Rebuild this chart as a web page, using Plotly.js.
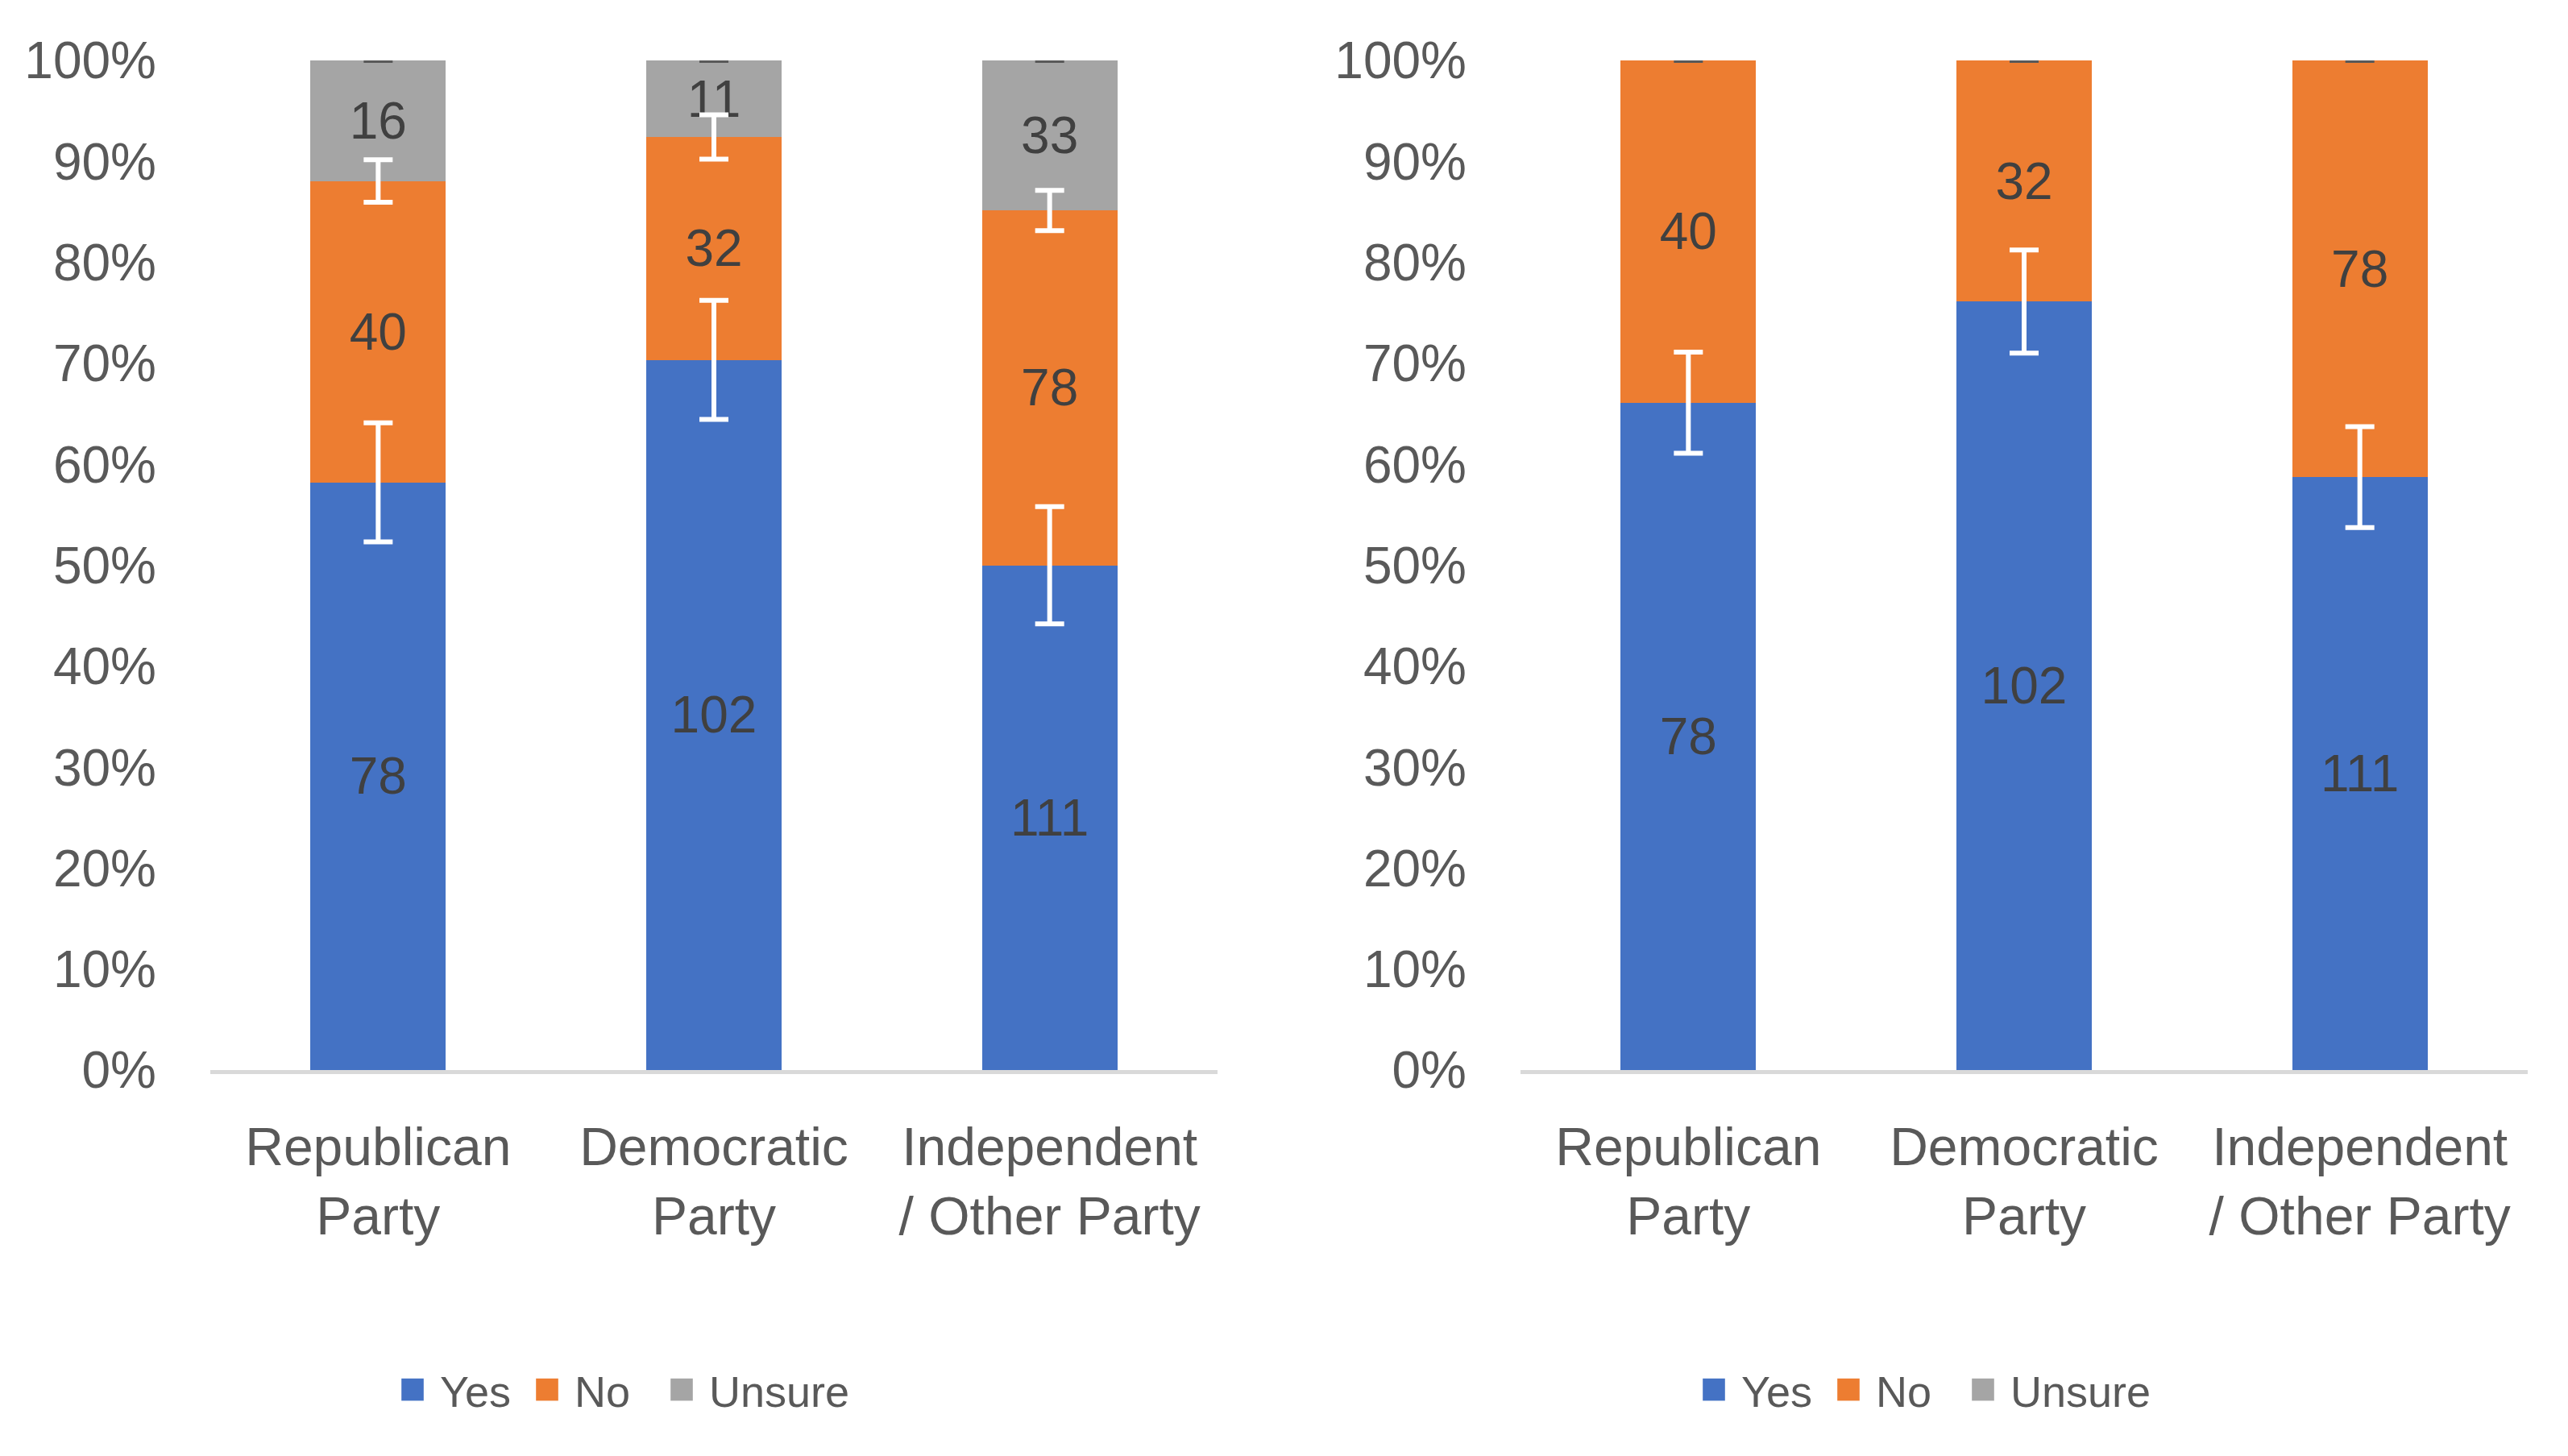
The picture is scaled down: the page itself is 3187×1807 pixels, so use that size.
<!DOCTYPE html>
<html>
<head>
<meta charset="utf-8">
<script src="https://cdn.plot.ly/plotly-3.0.1.min.js"></script>
<style>
html,body{margin:0;padding:0;background:#fff;}
#chart{width:3187px;height:1807px;}
/* larger legend swatches, as in the reference */
#chart .legend .legendpoints path,
#chart .legend2 .legendpoints path { transform: translate(6px, 0px) scale(2.3); }
#chart .legend .scrollbox,
#chart .legend2 .scrollbox { clip-path: none !important; }
</style>
</head>
<body>
<div id="chart"></div>
<script>
// ---- data ----
const categories = ['Republican Party', 'Democratic Party', 'Independent / Other Party'];
const tickLabels = ['Republican<br>Party', 'Democratic<br>Party', 'Independent<br>/ Other Party'];

// left panel counts
const yesLeft = [78, 102, 111];
const noLeft = [40, 32, 78];
const unsureLeft = [16, 11, 33];
// left panel error bars (share of total)
const errYesLeft = [0.059, 0.059, 0.058];
const errNoLeft = [0.021, 0.022, 0.020];
const errUnsureLeft = [0, 0, 0];

// right panel counts (unsure excluded)
const yesRight = [78, 102, 111];
const noRight = [40, 32, 78];
const unsureRight = [0, 0, 0];
const errYesRight = [0.050, 0.051, 0.050];
const errNoRight = [0, 0, 0];

// ---- styles ----
const colors = {Yes: '#4472C4', No: '#ED7D31', Unsure: '#A5A5A5'};
const FONT = 'Liberation Sans, Arial, sans-serif';

function totalsOf(a, b, c) { return a.map((v, i) => v + b[i] + c[i]); }
function shares(series, totals) { return series.map((v, i) => totals[i] ? v / totals[i] : 0); }
function addArr(a, b) { return a.map((v, i) => v + b[i]); }

const totLeft = totalsOf(yesLeft, noLeft, unsureLeft);
const totRight = totalsOf(yesRight, noRight, unsureRight);

function barTrace(name, counts, totals, xa, ya, legend) {
  return {
    type: 'bar',
    name: name,
    x: categories,
    y: shares(counts, totals),
    xaxis: xa, yaxis: ya,
    legend: legend,
    marker: {color: colors[name], line: {width: 0}},
    text: counts.map(v => v > 0 ? String(v) : ''),
    textposition: 'inside',
    insidetextanchor: 'middle',
    textangle: 0,
    constraintext: 'none',
    textfont: {family: FONT, size: 64, color: '#404040'},
    hoverinfo: 'skip'
  };
}

// error bars drawn on top of the stacked segments
function errTrace(tops, err, color, xa, ya) {
  return {
    type: 'scatter',
    mode: 'markers',
    x: categories,
    y: tops,
    xaxis: xa, yaxis: ya,
    showlegend: false,
    marker: {size: 1, opacity: 0},
    error_y: {type: 'data', array: err, visible: true, color: color, thickness: 6, width: 18},
    hoverinfo: 'skip'
  };
}

const yesShareL = shares(yesLeft, totLeft);
const noShareL = shares(noLeft, totLeft);
const unsShareL = shares(unsureLeft, totLeft);
const yesShareR = shares(yesRight, totRight);
const noShareR = shares(noRight, totRight);

const data = [
  barTrace('Yes', yesLeft, totLeft, 'x', 'y', 'legend'),
  barTrace('No', noLeft, totLeft, 'x', 'y', 'legend'),
  barTrace('Unsure', unsureLeft, totLeft, 'x', 'y', 'legend'),
  barTrace('Yes', yesRight, totRight, 'x2', 'y2', 'legend2'),
  barTrace('No', noRight, totRight, 'x2', 'y2', 'legend2'),
  barTrace('Unsure', unsureRight, totRight, 'x2', 'y2', 'legend2'),
  errTrace(yesShareL, errYesLeft, '#FFFFFF', 'x', 'y'),
  errTrace(addArr(yesShareL, noShareL), errNoLeft, '#FFFFFF', 'x', 'y'),
  errTrace(addArr(addArr(yesShareL, noShareL), unsShareL), errUnsureLeft, '#595959', 'x', 'y'),
  errTrace(yesShareR, errYesRight, '#FFFFFF', 'x2', 'y2'),
  errTrace(addArr(yesShareR, noShareR), errNoRight, '#595959', 'x2', 'y2')
];

const W = 3187, H = 1807;
const plotTop = 75, plotBottom = 1328;

function xAxis(domain, anchor) {
  return {
    domain: domain,
    anchor: anchor,
    type: 'category',
    tickvals: categories,
    ticktext: tickLabels,
    showline: true,
    linecolor: '#D9D9D9',
    linewidth: 5,
    ticks: '',
    showgrid: false,
    zeroline: false,
    ticklabelstandoff: 34,
    tickfont: {family: FONT, size: 66, color: '#595959'},
    fixedrange: true
  };
}
function yAxis(anchor) {
  return {
    anchor: anchor,
    range: [0, 1],
    tickmode: 'array',
    tickvals: [0, 0.1, 0.2, 0.3, 0.4, 0.5, 0.6, 0.7, 0.8, 0.9, 1],
    tickformat: '.0%',
    showline: false,
    showgrid: false,
    zeroline: false,
    ticks: '',
    ticklabelstandoff: 66,
    tickfont: {family: FONT, size: 64, color: '#595959'},
    fixedrange: true
  };
}

const legendY = (plotBottom - 1725) / (plotBottom - plotTop);
function legendCfg(x) {
  return {
    orientation: 'h',
    x: x, xanchor: 'left',
    y: legendY, yanchor: 'middle',
    traceorder: 'normal',
    entrywidth: 122,
    entrywidthmode: 'pixels',
    font: {family: FONT, size: 54, color: '#595959'},
    bgcolor: 'rgba(0,0,0,0)',
    borderwidth: 0
  };
}

const layout = {
  width: W, height: H,
  margin: {l: 0, r: 0, t: plotTop, b: H - plotBottom, pad: 0},
  paper_bgcolor: '#FFFFFF',
  plot_bgcolor: '#FFFFFF',
  barmode: 'stack',
  bargap: 0.597,
  font: {family: FONT, color: '#595959'},
  xaxis: xAxis([261 / W, 1511 / W], 'y'),
  yaxis: yAxis('x'),
  xaxis2: xAxis([1887 / W, 3137 / W], 'y2'),
  yaxis2: yAxis('x2'),
  legend: legendCfg(506 / W),
  legend2: legendCfg(2121 / W),
  hovermode: false,
  showlegend: true
};

Plotly.newPlot('chart', data, layout, {staticPlot: true, displayModeBar: false});
</script>
</body>
</html>
